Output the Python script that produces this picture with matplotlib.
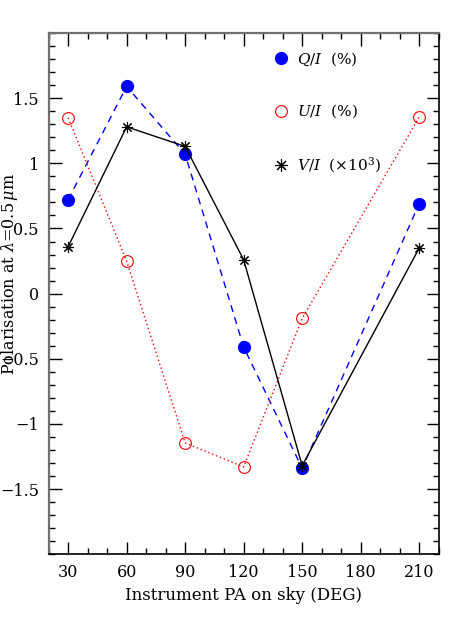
import matplotlib
matplotlib.use("Agg")
import matplotlib.pyplot as plt
from matplotlib.lines import Line2D
from matplotlib.ticker import MultipleLocator, FixedLocator

plt.rcParams['font.family'] = ['DejaVu Serif']
plt.rcParams['mathtext.fontset'] = 'dejavuserif'

pa = [30, 60, 90, 120, 150, 210]
q_over_i = [0.72, 1.59, 1.07, -0.41, -1.34, 0.69]
u_over_i = [1.35, 0.25, -1.145, -1.33, -0.19, 1.355]
v_over_i = [0.36, 1.28, 1.13, 0.26, -1.32, 0.35]
xticks = [30, 60, 90, 120, 150, 180, 210]
yticks = [-1.5, -1, -0.5, 0, 0.5, 1, 1.5]
ytick_labels = ['\u22121.5', '\u22121', '\u22120.5', '0', '0.5', '1', '1.5']

fig = plt.figure(figsize=(4.63, 6.17), dpi=100)
ax = fig.add_axes([0.105, 0.1016, 0.8425, 0.8449])

star = (8, 2, 0)
ax.plot(pa, q_over_i, color='blue', ls=(0, (5, 4)), lw=1.0, marker='o',
        ms=8.5, mfc='blue', mec='blue')
ax.plot(pa, u_over_i, color='red', ls=(0, (1, 2)), lw=1.0, marker='o',
        ms=8.5, mfc='none', mec='red', mew=0.8)
ax.plot(pa, v_over_i, color='black', ls='-', lw=1.0, marker=star,
        ms=8, mew=0.8, mec='black')

ax.set_xlim(20, 220)
ax.set_ylim(-2, 2)
ax.xaxis.set_major_locator(FixedLocator(xticks))
ax.set_xticklabels([str(t) for t in xticks])
ax.xaxis.set_minor_locator(MultipleLocator(10))
ax.yaxis.set_major_locator(FixedLocator(yticks))
ax.set_yticklabels(ytick_labels)
ax.yaxis.set_minor_locator(MultipleLocator(0.1))

ax.tick_params(which='both', direction='in', top=True, right=True,
               labelsize=11.5, width=1.0, pad=7)
ax.tick_params(which='major', length=9)
ax.tick_params(which='minor', length=4.5)

for side in ['left', 'top']:
    ax.spines[side].set_color('#707070')
    ax.spines[side].set_linewidth(1.6)
for side in ['right', 'bottom']:
    ax.spines[side].set_color('black')
    ax.spines[side].set_linewidth(1.2)

ax.set_xlabel('Instrument PA on sky (DEG)', fontsize=12, labelpad=4)
ax.set_ylabel(r'Polarisation at $\lambda$=0.5$\,\mu$m', fontsize=11.5)
ax.yaxis.set_label_coords(-0.074, 0.537)

handles = [
    Line2D([], [], ls='none', marker='o', ms=8.5, mfc='blue', mec='blue'),
    Line2D([], [], ls='none', marker='o', ms=8.5, mfc='none', mec='red', mew=0.8),
    Line2D([], [], ls='none', marker=star, ms=9, mec='black', mew=0.8),
]
labels = [r'$Q/I$  (%)', r'$U/I$  (%)', r'$V/I$  ($\times$10$^3$)']
ax.legend(handles, labels, loc='upper left', bbox_to_anchor=(0.54, 0.994),
          frameon=False, fontsize=11, labelspacing=2.3, handlelength=1.0,
          handletextpad=0.6)

fig.savefig('out.png', dpi=100)
